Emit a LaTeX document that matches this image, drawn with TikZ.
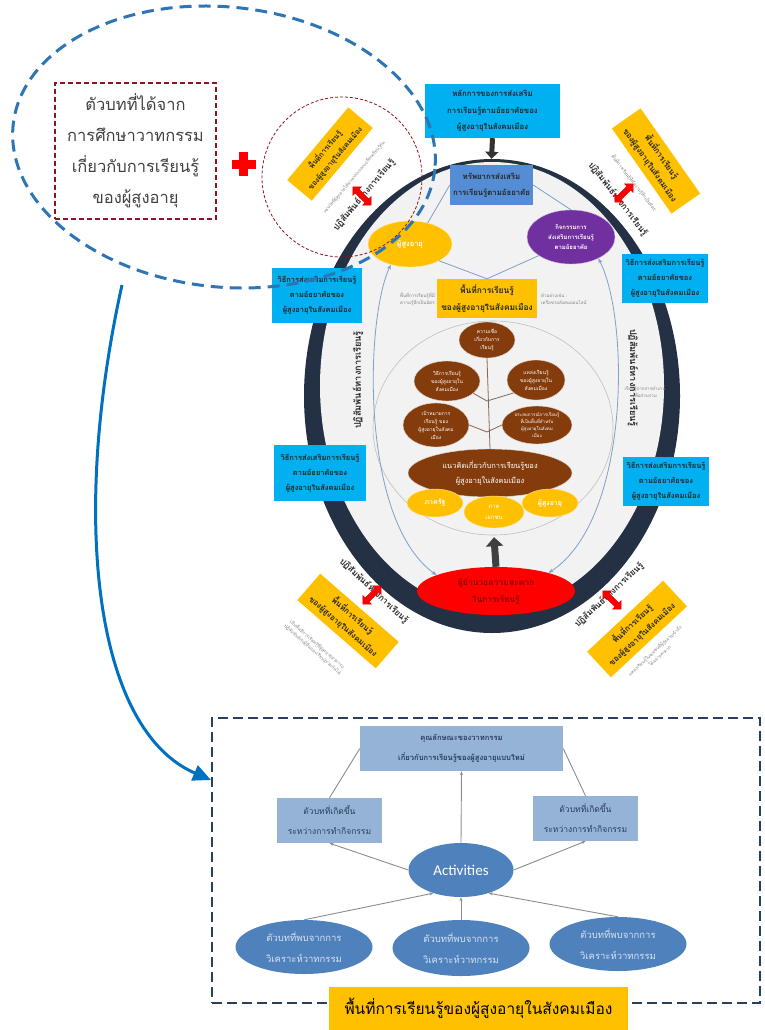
\documentclass[tikz,border=0pt]{standalone}
\usepackage{fontspec}
\setmainfont{Loma}[Script=Thai]
\newfontfamily\actfont{Carlito}
\usetikzlibrary{shapes.geometric,shapes.arrows,arrows.meta,positioning}

\definecolor{dashblue}{RGB}{46,117,182}
\definecolor{curveblue}{RGB}{0,112,192}
\definecolor{boxred}{RGB}{140,20,30}
\definecolor{skyblue}{RGB}{0,176,240}
\definecolor{resblue}{RGB}{84,141,212}
\definecolor{gold}{RGB}{255,192,0}
\definecolor{purp}{RGB}{112,48,160}
\definecolor{ringnavy}{RGB}{36,48,68}
\definecolor{innergray}{RGB}{242,242,242}
\definecolor{treebrown}{RGB}{132,60,12}
\definecolor{steel}{RGB}{79,129,189}
\definecolor{lightsteel}{RGB}{149,179,215}
\definecolor{linkblue}{RGB}{125,160,200}
\definecolor{notegray}{RGB}{128,128,128}
\definecolor{boxtext}{RGB}{40,60,90}

\begin{document}
\begin{tikzpicture}[x=1pt,y=-1pt,
    skybox/.style={fill=skyblue, text=black!85, font=\bfseries\fontsize{7.5}{15}\selectfont, align=center, inner sep=1pt, minimum width=88pt, minimum height=52pt},
    goldbox/.style={fill=gold, text=black!85, font=\bfseries\fontsize{8}{14}\selectfont, align=center, inner sep=1pt, minimum width=104pt, minimum height=35pt},
    brownell/.style={ellipse, fill=treebrown, draw=white!80!treebrown, text=white, font=\fontsize{5}{8}\selectfont, align=center, inner sep=0pt},
    goldell/.style={ellipse, fill=gold, draw=white!60!gold, text=white, font=\bfseries\fontsize{7}{10}\selectfont, align=center, inner sep=0pt},
    note/.style={text=notegray, font=\fontsize{4.5}{7}\selectfont, align=center, inner sep=0pt},
    bond/.style={text=black!85, font=\bfseries\fontsize{8.5}{10}\selectfont, inner sep=0pt},
    redarrow/.style={double arrow, fill=red, draw=red!80!black, minimum height=26pt, double arrow head extend=3.5pt, inner sep=2.5pt},
    link/.style={linkblue, line width=0.8pt},
    steelbox/.style={fill=lightsteel, text=boxtext, align=center, inner sep=1pt, font=\fontsize{8.5}{20}\selectfont},
    steelell/.style={ellipse, fill=steel, text=white!78!steel, align=center, inner sep=0pt, font=\fontsize{9.5}{21}\selectfont},
    plink/.style={black!45, line width=0.9pt, -{Stealth[length=4pt,width=3pt]}}]
  \useasboundingbox (0,0) rectangle (765,1030);

  % ring
  \fill[ringnavy] (492,396) ellipse [x radius=188, y radius=237];
  \fill[innergray] (492,386) ellipse [x radius=172, y radius=224];
  \draw[black!25, line width=0.6pt] (493,428) ellipse [x radius=120, y radius=107];

  % upper part
  \node[fill=skyblue, text=black!85, font=\bfseries\fontsize{7.8}{16.5}\selectfont, align=center, minimum width=135pt, minimum height=54pt, inner sep=1pt] (principle) at (492.5,111) {หลักการของการส่งเสริม\\การเรียนรู้ตามอัธยาศัยของ\\ผู้สูงอายุในสังคมเมือง};
  \node[fill=resblue, text=black!85, font=\bfseries\fontsize{7.8}{16}\selectfont, align=center, minimum width=83pt, minimum height=40pt, inner sep=1pt] (resource) at (491.5,185) {ทรัพยากรส่งเสริม\\การเรียนรู้ตามอัธยาศัย};
  \draw[black!80, line width=5pt, -{Triangle[length=7pt,width=13pt]}] (principle.south) -- ([yshift=6pt]resource.north);

  \node[goldell, minimum width=84pt, minimum height=46pt, font=\bfseries\fontsize{7.5}{10}\selectfont] (eld) at (410,244) {ผู้สูงอายุ};
  \node[ellipse, fill=purp, draw=white!60!purp, text=white, font=\bfseries\fontsize{6}{10}\selectfont, align=center, inner sep=0pt, minimum width=88pt, minimum height=54pt] (act) at (571,237) {กิจกรรมการ\\ส่งเสริมการเรียนรู้\\ตามอัธยาศัย};
  \node[fill=gold, text=black!85, font=\bfseries\fontsize{8.4}{17}\selectfont, align=center, minimum width=100pt, minimum height=39pt, inner sep=1pt] (space) at (487,298.5) {พื้นที่การเรียนรู้\\ของผู้สูงอายุในสังคมเมือง};
  \node[note, align=right, anchor=east] (noteA) at (435,299) {พื้นที่การเรียนรู้ที่มี\\ความรู้สึกเป็นมิตร};
  \node[note, align=left, anchor=west] (noteB) at (541,299) {ตัวอย่างเช่น :\\เครือข่ายสังคมออนไลน์};

  \draw[link] (resource.west) -- (eld.50);
  \draw[link] (resource.east) -- (act.north);
  \draw[link] (space.north) -- (eld.-30);
  \draw[link] (space.north) -- (act.-150);

  % tree
  \node[brownell, minimum width=56pt, minimum height=36pt] (belief) at (487,340) {ความเชื่อ\\เกี่ยวกับการ\\เรียนรู้};
  \node[brownell, minimum width=66pt, minimum height=40pt] (method) at (447,381) {วิธีการเรียนรู้\\ของผู้สูงอายุใน\\สังคมเมือง};
  \node[brownell, minimum width=58pt, minimum height=40pt] (source) at (536,380) {แหล่งเรียนรู้\\ของผู้สูงอายุใน\\สังคมเมือง};
  \node[brownell, minimum width=66pt, minimum height=44pt] (goal) at (436,425) {เป้าหมายการ\\เรียนรู้ ของ\\ผู้สูงอายุในสังคม\\เมือง};
  \node[brownell, minimum width=70pt, minimum height=38pt, font=\fontsize{4.5}{7}\selectfont] (exper) at (537,425) {ประสบการณ์การเรียนรู้\\ที่เป็นพื้นที่สำหรับ\\ผู้สูงอายุในสังคม\\เมือง};
  \node[brownell, minimum width=164pt, minimum height=48pt, font=\fontsize{7.5}{15}\selectfont] (concept) at (490,473) {แนวคิดเกี่ยวกับการเรียนรู้ของ\\ผู้สูงอายุในสังคมเมือง};
  \coordinate (fork1) at (487,401);
  \coordinate (fork2) at (487,432);
  \draw[treebrown!35!gray, line width=0.8pt] (belief.south) -- (concept.north);
  \draw[treebrown!35!gray, line width=0.8pt] (fork1) -- (method.-25);
  \draw[treebrown!35!gray, line width=0.8pt] (fork1) -- (source.-150);
  \draw[treebrown!35!gray, line width=0.8pt] (fork2) -- (goal.east);
  \draw[treebrown!35!gray, line width=0.8pt] (fork2) -- (exper.west);

  \node[goldell, minimum width=56pt, minimum height=28pt] (gov) at (435,503) {ภาครัฐ};
  \node[goldell, minimum width=60pt, minimum height=32pt, font=\fontsize{6}{11}\selectfont] (priv) at (494,512) {ภาค\\เอกชน};
  \node[goldell, minimum width=56pt, minimum height=28pt] (elder) at (550,503) {ผู้สูงอายุ};

  \node[ellipse, fill=red, text=red!55!black, font=\bfseries\fontsize{8.5}{17}\selectfont, align=center, inner sep=0pt, minimum width=158pt, minimum height=48pt] (facil) at (496,591) {ผู้อำนวยความสะดวก\\ในการเรียนรู้};
  \draw[black!75, line width=7pt, -{Triangle[length=9pt,width=17pt]}] (facil.north) -- ([yshift=-9pt]priv.south);

  \draw[link, <->, >={Stealth[length=5pt,width=4pt]}] (eld.-133) .. controls (365,320) and (360,520) .. (facil.165);
  \draw[link, <->, >={Stealth[length=5pt,width=4pt]}] (act.-38) .. controls (630,320) and (630,520) .. (facil.19);

  \node[bond, rotate=90, font=\bfseries\fontsize{9.2}{10}\selectfont] (bondL) at (358,380) {ปฏิสัมพันธ์ทางการเรียนรู้};
  \node[bond, rotate=-90, font=\bfseries\fontsize{9.2}{10}\selectfont] (bondR) at (633,378) {ปฏิสัมพันธ์ทางการเรียนรู้};
  \node[note] (noteR) at (645,392) {เรียนรู้จากการทำงาน\\เพื่อส่วนรวม};

  % side boxes
  \node[skybox, minimum width=90pt, minimum height=55pt] (wayLT) at (317,295) {วิธีการส่งเสริมการเรียนรู้\\ตามอัธยาศัยของ\\ผู้สูงอายุในสังคมเมือง};
  \node[skybox, minimum width=92pt, minimum height=56pt] (wayLB) at (320,473) {วิธีการส่งเสริมการเรียนรู้\\ตามอัธยาศัยของ\\ผู้สูงอายุในสังคมเมือง};
  \node[skybox, minimum width=86pt, minimum height=49pt] (wayRT) at (665,278) {วิธีการส่งเสริมการเรียนรู้\\ตามอัธยาศัยของ\\ผู้สูงอายุในสังคมเมือง};
  \node[skybox, minimum width=86pt, minimum height=49pt] (wayRB) at (666,481) {วิธีการส่งเสริมการเรียนรู้\\ตามอัธยาศัยของ\\ผู้สูงอายุในสังคมเมือง};

  % corner spaces
  \node[goldbox, rotate=50, minimum width=95pt, minimum height=32pt, font=\bfseries\fontsize{7.3}{13}\selectfont] (spaceTL) at (330,154) {พื้นที่การเรียนรู้\\ของผู้สูงอายุในสังคมเมือง};
  \node[note, rotate=50] (noteTL) at (354,177) {เช่นวัดที่ผู้สูงอายุได้มาพบปะแลกเปลี่ยนเรียนรู้กัน};
  \node[bond, rotate=50] (bondTL) at (364,195) {ปฏิสัมพันธ์ทางการเรียนรู้};
  \node[redarrow, rotate=-45] (arrTL) at (362,196) {};

  \node[goldbox, rotate=-55] (spaceTR) at (656,161) {พื้นที่การเรียนรู้\\ของผู้สูงอายุในสังคมเมือง};
  \node[note, rotate=-52] (noteTR) at (634,183) {พื้นที่การเรียนรู้ที่มีความรู้สึกเป็นมิตร};
  \node[bond, rotate=-52] (bondTR) at (618,199) {ปฏิสัมพันธ์ทางการเรียนรู้};
  \node[redarrow, rotate=45] (arrTR) at (624,193) {};

  \node[goldbox, rotate=-41] (spaceBL) at (348,621) {พื้นที่การเรียนรู้\\ของผู้สูงอายุในสังคมเมือง};
  \node[note, rotate=-41] (noteBL) at (315,647) {เป็นพื้นที่การเรียนรู้ที่ผู้สูงอายุสามารถ\\ปฏิสัมพันธ์กับผู้อื่นและเรียนรู้ร่วมกันได้};
  \node[bond, rotate=-43] (bondBL) at (374,591) {ปฏิสัมพันธ์ทางการเรียนรู้};
  \node[redarrow, rotate=45] (arrBL) at (372,595) {};

  \node[goldbox, rotate=43] (spaceBR) at (637,629) {พื้นที่การเรียนรู้\\ของผู้สูงอายุในสังคมเมือง};
  \node[note, rotate=43] (noteBR) at (657,653) {แหล่งเรียนรู้ในชุมชนที่ผู้สูงอายุเข้าถึง\\ได้อย่างสะดวก};
  \node[bond, rotate=43] (bondBR) at (609,595) {ปฏิสัมพันธ์ทางการเรียนรู้};
  \node[redarrow, rotate=-45] (arrBR) at (612,600) {};

  % discourse texts
  \draw[boxred, dash pattern=on 3pt off 2pt, line width=0.8pt] (342,177) circle [radius=80];
  \node[draw=boxred, line width=1.6pt, dash pattern=on 5pt off 3pt, text=black!75, font=\fontsize{16.5}{31}\selectfont, align=center, minimum width=161pt, minimum height=136pt] (textsrc) at (135.5,151) {ตัวบทที่ได้จาก\\การศึกษาวาทกรรม\\เกี่ยวกับการเรียนรู้\\ของผู้สูงอายุ};
  \fill[red] (239,152) rectangle (248,176);
  \fill[red] (231.5,159.5) rectangle (255.5,168.5);
  \draw[dashblue, line width=3pt, dash pattern=on 12pt off 7pt, rotate around={-6:(224,147)}] (224,147) ellipse [x radius=212, y radius=140];

  % lower panel
  \node[draw=black!50!steel, line width=1.4pt, dash pattern=on 10pt off 5pt, minimum width=548pt, minimum height=285pt] (panel) at (486,860.5) {};
  \coordinate (ellbot) at (122,285);
  \coordinate (panelin) at (211,780);
  \draw[curveblue, line width=3pt, -{Triangle[length=18pt,width=16pt]}] (ellbot) .. controls (70,520) and (95,730) .. (panelin);

  \node[steelbox, font=\bfseries\fontsize{7.6}{20}\selectfont, minimum width=203pt, minimum height=45pt] (trait) at (461.5,748.5) {คุณลักษณะของวาทกรรม\\เกี่ยวกับการเรียนรู้ของผู้สูงอายุแบบใหม่};
  \node[steelbox, minimum width=105pt, minimum height=45pt] (occL) at (329.5,820.5) {ตัวบทที่เกิดขึ้น\\ระหว่างการทำกิจกรรม};
  \node[steelbox, minimum width=105pt, minimum height=45pt] (occR) at (585.5,818.5) {ตัวบทที่เกิดขึ้น\\ระหว่างการทำกิจกรรม};
  \node[ellipse, fill=steel, text=white, font=\actfont\fontsize{15}{17}\selectfont, inner sep=0pt, minimum width=105pt, minimum height=54pt] (activ) at (461,870) {Activities};
  \node[steelell, minimum width=137pt, minimum height=54pt] (foundL) at (304,947) {ตัวบทที่พบจากการ\\วิเคราะห์วาทกรรม};
  \node[steelell, minimum width=137pt, minimum height=56pt] (foundM) at (461,948) {ตัวบทที่พบจากการ\\วิเคราะห์วาทกรรม};
  \node[steelell, minimum width=137pt, minimum height=54pt] (foundR) at (618,944) {ตัวบทที่พบจากการ\\วิเคราะห์วาทกรรม};

  \draw[black!45, line width=0.9pt] (occL.north) -- (trait.west);
  \draw[black!45, line width=0.9pt] (occR.north) -- (trait.east);
  \draw[plink] (activ.north) -- (trait.south);
  \draw[plink] (activ.west) -- (occL.south);
  \draw[plink] (activ.east) -- (occR.south);
  \draw[plink] (foundL.north) -- (activ.-140);
  \draw[plink] (foundM.north) -- (activ.south);
  \draw[plink] (foundR.north) -- (activ.-40);

  \node[fill=gold, text=black, font=\fontsize{15.5}{17}\selectfont, minimum width=299pt, minimum height=43pt, inner sep=0pt] (title) at (478.5,1008.5) {พื้นที่การเรียนรู้ของผู้สูงอายุในสังคมเมือง};
\end{tikzpicture}
\end{document}
